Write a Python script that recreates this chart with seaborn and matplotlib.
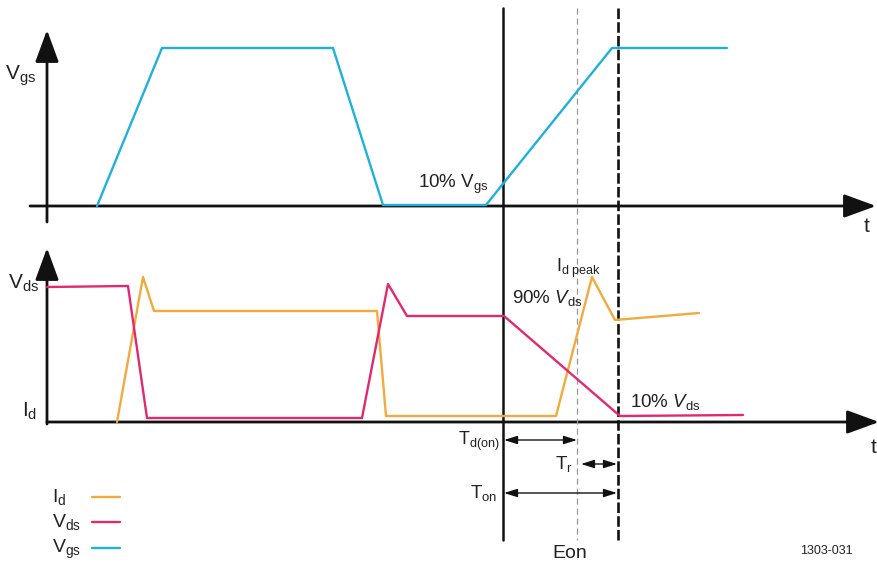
import matplotlib
matplotlib.use("Agg")
import matplotlib.pyplot as plt
import seaborn as sns
import pandas as pd

# ---- data (time position, level) ----
vgs_t = [97, 162, 333, 383, 486, 612, 727]
vgs_y = [206, 48, 48, 205, 205, 48, 48]

vds_t = [47, 128, 147, 362, 388, 407, 504, 620, 743]
vds_y = [287, 286, 418, 418, 284, 316, 316, 416, 415]

id_t = [117, 143, 154, 377, 386, 556, 592, 615, 699]
id_y = [422, 277, 311, 311, 416, 416, 277, 320, 313]

series_names = ["Id", "Vds", "Vgs"]
series_colors = {"Id": "#f3aa3c", "Vds": "#e0296f", "Vgs": "#1fb0dc"}

t_on_start = 503     # 10% Vgs
t_r_start = 577      # 90% Vds
t_on_end = 618       # 10% Vds

sns.set_theme(style="white")
plt.rcParams["font.family"] = ["Liberation Sans", "DejaVu Sans"]
plt.rcParams["mathtext.fontset"] = "custom"
plt.rcParams["mathtext.rm"] = "Liberation Sans"
plt.rcParams["mathtext.it"] = "Liberation Sans:italic"

df = pd.concat([
    pd.DataFrame({"t": vgs_t, "y": vgs_y, "s": "Vgs", "o": range(len(vgs_t))}),
    pd.DataFrame({"t": vds_t, "y": vds_y, "s": "Vds", "o": range(len(vds_t))}),
    pd.DataFrame({"t": id_t, "y": id_y, "s": "Id", "o": range(len(id_t))}),
], ignore_index=True)

fig = plt.figure(figsize=(8.77, 5.67), dpi=100)
ax = fig.add_axes([0, 0, 1, 1])
ax.set_xlim(0, 877)
ax.set_ylim(567, 0)
ax.axis("off")

# axes with arrows
black = "#111111"
def arrow(x0, y0, x1, y1, lw=2.0, ms=22):
    ax.annotate("", xy=(x1, y1), xytext=(x0, y0), annotation_clip=False,
                arrowprops=dict(arrowstyle="-|>,head_length=0.9,head_width=0.33",
                                lw=lw, color=black, shrinkA=0, shrinkB=0,
                                mutation_scale=ms), zorder=2)

arrow(47, 222, 47, 30)
arrow(30, 206, 876, 206)
arrow(47, 424, 47, 248)
arrow(47, 422, 879, 422)

# vertical markers
ax.plot([t_on_start, t_on_start], [8, 540], color=black, lw=1.8, zorder=2)
ax.plot([t_r_start, t_r_start], [8, 540], color="#9a9a9a", lw=0.9,
        ls=(0, (5, 3)), zorder=2)
ax.plot([t_on_end, t_on_end], [8, 540], color=black, lw=1.9,
        ls=(0, (4, 1.2)), zorder=2)

# waveforms
for name in series_names:
    sub = df[df["s"] == name]
    sns.lineplot(data=sub, x="t", y="y", sort=False, estimator=None,
                 color=series_colors[name], lw=1.7, ax=ax, zorder=4,
                 legend=False)
ax.set_xlim(0, 877)
ax.set_ylim(567, 0)
ax.axis("off")

# dimension arrows
def dim(x0, x1, y):
    ax.annotate("", xy=(x1, y), xytext=(x0, y),
                arrowprops=dict(arrowstyle="<|-|>,head_length=0.8,head_width=0.25",
                                lw=1.0, color=black, shrinkA=0, shrinkB=0,
                                mutation_scale=10), zorder=3)

dim(t_on_start + 1, t_r_start, 440)
dim(t_r_start + 4, t_on_end - 1, 464)
dim(t_on_start + 1, t_on_end - 1, 493)

fs = 15
tc = "#222222"
ax.text(5, 80, r"V$_{\mathregular{gs}}$", fontsize=fs, color=tc, va="baseline")
ax.text(8, 289, r"V$_{\mathregular{ds}}$", fontsize=fs, color=tc, va="baseline")
ax.text(22, 417, r"I$_{\mathregular{d}}$", fontsize=fs, color=tc, va="baseline")
ax.text(864, 232, "t", fontsize=fs, color=tc, va="baseline")
ax.text(871, 453, "t", fontsize=fs, color=tc, va="baseline")

ax.text(418, 188, r"10% V$_{\mathregular{gs}}$", fontsize=13.5, color=tc, va="baseline")
ax.text(556, 272, r"I$_{\mathregular{d\ peak}}$", fontsize=13, color=tc, va="baseline")
ax.text(512, 303, r"90% $\mathit{V}_{\mathregular{ds}}$", fontsize=13.5, color=tc, va="baseline")
ax.text(630, 407, r"10% $\mathit{V}_{\mathregular{ds}}$", fontsize=13.5, color=tc, va="baseline")

ax.text(500, 445, r"T$_{\mathregular{d(on)}}$", fontsize=13, color=tc, va="baseline", ha="right")
ax.text(555, 469, r"T$_{\mathregular{r}}$", fontsize=13.5, color=tc, va="baseline")
ax.text(470, 498, r"T$_{\mathregular{on}}$", fontsize=13.5, color=tc, va="baseline")
ax.text(570, 558, "Eon", fontsize=14, color=tc, va="baseline", ha="center")
ax.text(800, 554, "1303-031", fontsize=9, color=tc, va="baseline")

# legend (manual, as in reference)
leg_y = {"Id": 497, "Vds": 522, "Vgs": 548}
leg_lbl = {"Id": r"I$_{\mathregular{d}}$", "Vds": r"V$_{\mathregular{ds}}$",
           "Vgs": r"V$_{\mathregular{gs}}$"}
for name in series_names:
    y = leg_y[name]
    ax.text(52, y + 5, leg_lbl[name], fontsize=14, color=tc, va="baseline")
    ax.plot([92, 120], [y, y], color=series_colors[name], lw=1.7)

fig.savefig("out.png", dpi=100)
